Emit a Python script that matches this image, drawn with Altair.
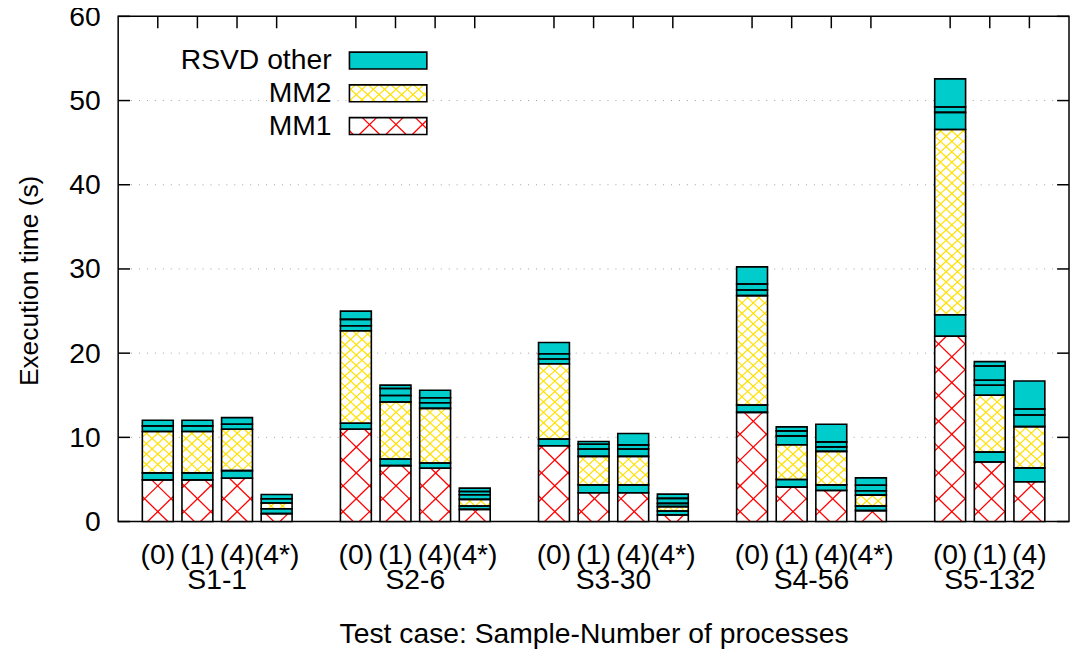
import math
import altair as alt
import pandas as pd

# ---------------- data ----------------
groups = ["S1-1", "S2-6", "S3-30", "S4-56", "S5-132"]
runs = [["(0)", "(1)", "(4)", "(4*)"],
        ["(0)", "(1)", "(4)", "(4*)"],
        ["(0)", "(1)", "(4)", "(4*)"],
        ["(0)", "(1)", "(4)", "(4*)"],
        ["(0)", "(1)", "(4)"]]
mm1 = [[4.95, 4.95, 5.15, 0.94],
       [10.96, 6.64, 6.33, 1.45],
       [9.00, 3.42, 3.42, 0.78],
       [12.97, 4.09, 3.69, 1.30],
       [22.00, 7.07, 4.72]]
other_mid = [[0.83, 0.83, 0.90, 0.59],
             [0.71, 0.79, 0.63, 0.40],
             [0.79, 0.94, 0.94, 0.47],
             [0.86, 0.90, 0.67, 0.54],
             [2.56, 1.18, 1.65]]
mm2 = [[4.92, 4.92, 4.91, 0.67],
       [11.00, 6.76, 6.48, 0.78],
       [8.96, 3.38, 3.38, 0.52],
       [13.00, 4.13, 3.97, 1.30],
       [22.00, 6.76, 4.90]]
other_top = [
    [[0.66, 0.67], [0.66, 0.67], [0.59, 0.79], [0.51, 0.51]],
    [[0.59, 0.75, 0.98], [0.79, 0.83, 0.39], [0.67, 0.59, 0.90], [0.55, 0.39, 0.40]],
    [[0.55, 0.63, 1.33], [0.86, 0.59, 0.32], [0.86, 0.51, 1.34], [0.39, 0.59, 0.51]],
    [[0.67, 0.71, 2.04], [1.06, 0.59, 0.47], [0.54, 0.59, 2.09], [0.52, 0.66, 0.87]],
    [[2.04, 0.63, 3.35], [1.18, 0.59, 1.69, 0.52], [1.38, 0.71, 3.34]],
]
legend_labels = ["RSVD other", "MM2", "MM1"]
legend_kinds = ["other", "MM2", "MM1"]
y_ticks = [0, 10, 20, 30, 40, 50, 60]

# ---------------- layout ----------------
W, H = 958, 509
XMIN, XMAX = -1, 23
YMIN, YMAX = 0, 60
sx = W / (XMAX - XMIN)
sy = H / (YMAX - YMIN)
HALF = 0.39
FONT = "Liberation Sans"
FS = 28.5      # horizontal texts
FS_V = 26.5    # rotated y title
TEAL = "#00cccc"


def px2x(px):
    return px / sx + XMIN


def px2y(py):
    return (H - py) / sy + YMIN


xs = alt.Scale(domain=[XMIN, XMAX], nice=False, zero=False)
ys = alt.Scale(domain=[YMIN, YMAX], nice=False, zero=False)

YAX = alt.Axis(
    values=y_ticks, ticks=False, tickSize=0, domain=False, grid=False,
    labelPadding=18, labelFont=FONT, labelFontSize=FS, labelColor="black",
    title="Execution time (s)", titleFont=FONT, titleFontSize=FS_V,
    titleFontWeight="normal", titleColor="black", titleAngle=-90,
    titleX=-89, titleY=266, titleAlign="center", titleBaseline="middle")
XAX = alt.Axis(
    labels=False, ticks=False, tickSize=0, domain=False, grid=False,
    title="Test case: Sample-Number of processes", titleFont=FONT,
    titleFontSize=FS, titleFontWeight="normal", titleColor="black",
    titleY=113, titleX=W / 2, titleAlign="center", titleBaseline="middle")


def X(f):
    return alt.X(f, type="quantitative", scale=xs, axis=XAX)


def Y(f):
    return alt.Y(f, type="quantitative", scale=ys, axis=YAX)


# ---------------- segments ----------------
segs = []
bar_labels = []
group_labels = []
for g, gname in enumerate(groups):
    ps = []
    for j, rname in enumerate(runs[g]):
        pos = 5 * g + j
        ps.append(pos)
        bar_labels.append({"pos": pos, "label": rname})
        pieces = [("MM1", mm1[g][j]), ("other", other_mid[g][j]), ("MM2", mm2[g][j])]
        pieces += [("other", v) for v in other_top[g][j]]
        cum = 0.0
        for kind, v in pieces:
            segs.append({"x": pos - HALF, "x2": pos + HALF, "y": cum, "y2": cum + v, "kind": kind})
            cum += v
    group_labels.append({"pos": sum(ps) / len(ps), "label": gname})

# legend boxes (plot pixel layout -> data coords)
leg_box_x = (233, 311)
leg_box_y = [(36, 53), (69, 86), (102, 119)]
leg_text = []
for lab, kind, (ya, yb) in zip(legend_labels, legend_kinds, leg_box_y):
    segs.append({"x": px2x(leg_box_x[0]), "x2": px2x(leg_box_x[1]),
                 "y": px2y(yb), "y2": px2y(ya), "kind": kind})
    leg_text.append({"x": px2x(215), "y": px2y((ya + yb) / 2), "label": lab})

seg_df = pd.DataFrame(segs)


# ---------------- hatch pattern (crosshatch) ----------------
def hatch(rect, Px, Py, ox, oy):
    X0, X1, Y0, Y1 = rect  # pixel coords, Y down, Y0 < Y1
    s = Py / Px
    out = []
    lo = (Y0 - s * X1) - (oy - s * ox)
    hi = (Y1 - s * X0) - (oy - s * ox)
    for k in range(math.ceil(lo / Py), math.floor(hi / Py) + 1):
        b = (oy - s * ox) + k * Py
        xa = max(X0, (Y0 - b) / s)
        xb = min(X1, (Y1 - b) / s)
        if xb - xa > 0.3:
            out.append((xa, s * xa + b, xb, s * xb + b))
    lo = (Y0 + s * X0) - (oy + s * ox)
    hi = (Y1 + s * X1) - (oy + s * ox)
    for k in range(math.ceil(lo / Py), math.floor(hi / Py) + 1):
        b = (oy + s * ox) + k * Py
        xa = max(X0, (b - Y1) / s)
        xb = min(X1, (b - Y0) / s)
        if xb - xa > 0.3:
            out.append((xa, b - s * xa, xb, b - s * xb))
    return out


red_lines, yel_lines = [], []
for sg in segs:
    if sg["kind"] == "other":
        continue
    rect = ((sg["x"] - XMIN) * sx, (sg["x2"] - XMIN) * sx,
            H - (sg["y2"] - YMIN) * sy, H - (sg["y"] - YMIN) * sy)
    if sg["kind"] == "MM1":
        lines = hatch(rect, 80 / 3, 26.0, sx, 421.0)
        target = red_lines
    else:
        lines = hatch(rect, 80 / 7, 10.5, sx, 0.0)
        target = yel_lines
    for (a, b, c, d) in lines:
        target.append({"x": px2x(a), "y": px2y(b), "x2": px2x(c), "y2": px2y(d)})

red_df = pd.DataFrame(red_lines)
yel_df = pd.DataFrame(yel_lines)

# ---------------- layers ----------------
positions = pd.DataFrame({"pos": [b["pos"] for b in bar_labels]})
yt_df = pd.DataFrame({"v": y_ticks})
grid_df = pd.DataFrame({"v": y_ticks[1:-1]})

grid = alt.Chart(grid_df).mark_rule(color="#a0a0a0", strokeWidth=1, strokeDash=[1, 7]).encode(
    y=Y("v"), x=alt.value(13), x2=alt.value(W - 13))

tick_style = dict(color="black", strokeWidth=1.5)
left_ticks = alt.Chart(yt_df).mark_rule(**tick_style).encode(
    y=Y("v"), x=alt.value(0), x2=alt.value(12))
right_ticks = alt.Chart(yt_df).mark_rule(**tick_style).encode(
    y=Y("v"), x=alt.value(W - 12), x2=alt.value(W))
top_ticks = alt.Chart(positions).mark_rule(**tick_style).encode(
    x=X("pos"), y=alt.value(0), y2=alt.value(12))
bottom_ticks = alt.Chart(positions).mark_rule(**tick_style).encode(
    x=X("pos"), y=alt.value(H - 12), y2=alt.value(H))

enc_rect = dict(x=X("x"), x2="x2:Q", y=Y("y"), y2="y2:Q")
fill = alt.Chart(seg_df).mark_rect(strokeWidth=0).encode(
    color=alt.Color("kind:N", scale=alt.Scale(domain=["MM1", "MM2", "other"],
                                              range=["#ffffff", "#ffffff", TEAL]), legend=None),
    **enc_rect)
red = alt.Chart(red_df).mark_rule(color="#ff0000", strokeWidth=1.3).encode(**enc_rect)
yel = alt.Chart(yel_df).mark_rule(color="#ffe000", strokeWidth=1.2).encode(**enc_rect)
outline = alt.Chart(seg_df).mark_rect(fill="white", fillOpacity=0, stroke="black",
                                      strokeWidth=1.6).encode(**enc_rect)

bar_text = alt.Chart(pd.DataFrame(bar_labels)).mark_text(
    font=FONT, fontSize=FS, color="black", align="center", baseline="middle").encode(
    x=X("pos"), y=alt.value(543), text="label:N")
group_text = alt.Chart(pd.DataFrame(group_labels)).mark_text(
    font=FONT, fontSize=FS, color="black", align="center", baseline="middle").encode(
    x=X("pos"), y=alt.value(568), text="label:N")
legend_text = alt.Chart(pd.DataFrame(leg_text)).mark_text(
    font=FONT, fontSize=FS, color="black", align="right", baseline="middle").encode(
    x=X("x"), y=Y("y"), text="label:N")

chart = alt.layer(
    grid, bottom_ticks, left_ticks, right_ticks, top_ticks,
    fill, red, yel, outline, bar_text, group_text, legend_text,
).properties(
    width=W, height=H,
    autosize=alt.AutoSizeParams(type="none"),
    padding={"left": 111, "top": 6, "right": 1, "bottom": 128},
    background="white",
).configure_view(stroke="black", strokeWidth=1.5)

chart.save("out.html", embed_options={"renderer": "svg", "actions": False})
